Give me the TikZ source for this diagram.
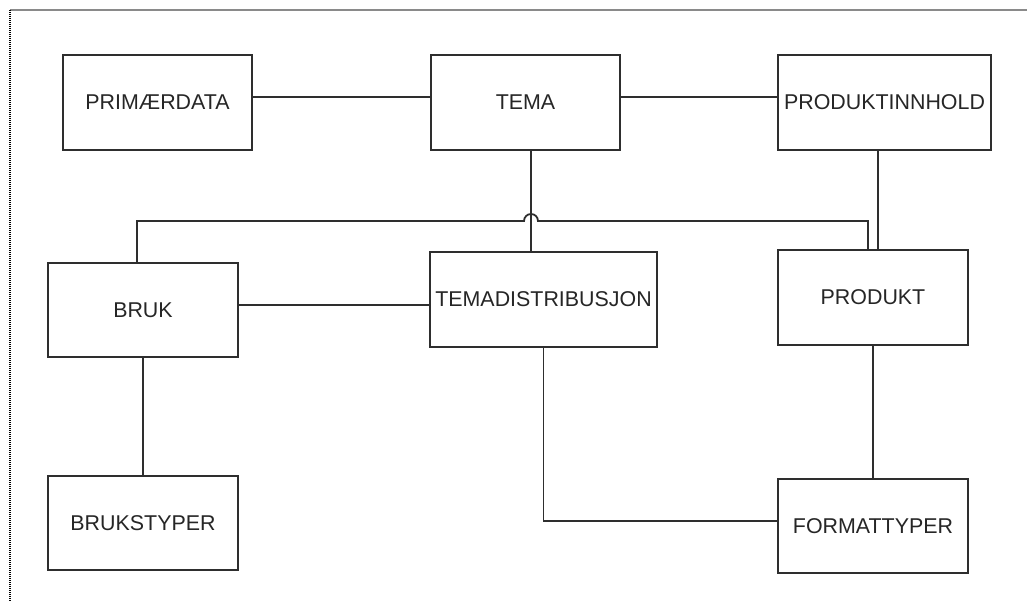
\documentclass[tikz,border=0pt]{standalone}
\usepackage{fontspec}
\setmainfont{Liberation Sans}
\definecolor{lineC}{HTML}{2E2E2E}
\definecolor{textC}{HTML}{262626}
\definecolor{frameC}{HTML}{8A8A8A}
\begin{document}
\begin{tikzpicture}[x=1pt,y=-1pt,
  ent/.style={draw=lineC, line width=2.2pt, fill=white, inner sep=0pt,
    minimum height=95pt, text=textC,
    font=\fontsize{21.4}{24}\selectfont},
  conn/.style={draw=lineC, line width=1.8pt}]
\useasboundingbox (0,0) rectangle (1027,601);
\fill[white] (0,0) rectangle (1027,601);
% frame
\draw[frameC, line width=1.8pt] (10,10) -- (1027,10);
\draw[black, line width=2.2pt, dash pattern=on 1pt off 1pt] (10,10) -- (10,601);
% entities
\node[ent, minimum width=189pt] (prim) at (157.5,102.5) {PRIMÆRDATA};
\node[ent, minimum width=189pt] (tema) at (525.5,102.5) {TEMA};
\node[ent, minimum width=213pt] (pinn) at (884.5,102.5) {PRODUKTINNHOLD};
\node[ent, minimum width=190pt, minimum height=94pt] (bruk) at (143,310) {BRUK};
\node[ent, minimum width=227pt] (tdist) at (543.5,299.5) {TEMADISTRIBUSJON};
\node[ent, minimum width=190pt] (prod) at (873,297.5) {PRODUKT};
\node[ent, minimum width=190pt, minimum height=94pt] (btyp) at (143,523) {BRUKSTYPER};
\node[ent, minimum width=190pt, minimum height=94pt] (ftyp) at (873,526) {FORMATTYPER};
% connectors
\draw[conn] ([yshift=5.5pt]prim.east) -- ([yshift=5.5pt]tema.west);
\draw[conn] ([yshift=5.5pt]tema.east) -- ([yshift=5.5pt]pinn.west);
\draw[conn] ([xshift=5.5pt]tema.south) -- ([xshift=5.5pt]tema.south |- tdist.north);
\coordinate (jmp) at (531,221);
\draw[conn] ([xshift=-6pt]bruk.north) |- ([xshift=-7pt]jmp)
  arc[start angle=180, end angle=0, radius=7pt]
  -| ([xshift=-5pt]prod.north);
\draw[conn] ([xshift=-6.5pt]pinn.south) -- ([xshift=-6.5pt]pinn.south |- prod.north);
\draw[conn] ([yshift=5pt]bruk.east) -- ([yshift=5pt]bruk.east -| tdist.west);
\draw[conn] (bruk.south) -- (btyp.north);
\draw[conn] (tdist.south) |- ([yshift=5pt]ftyp.west);
\draw[conn] (prod.south) -- (ftyp.north);
\end{tikzpicture}
\end{document}
